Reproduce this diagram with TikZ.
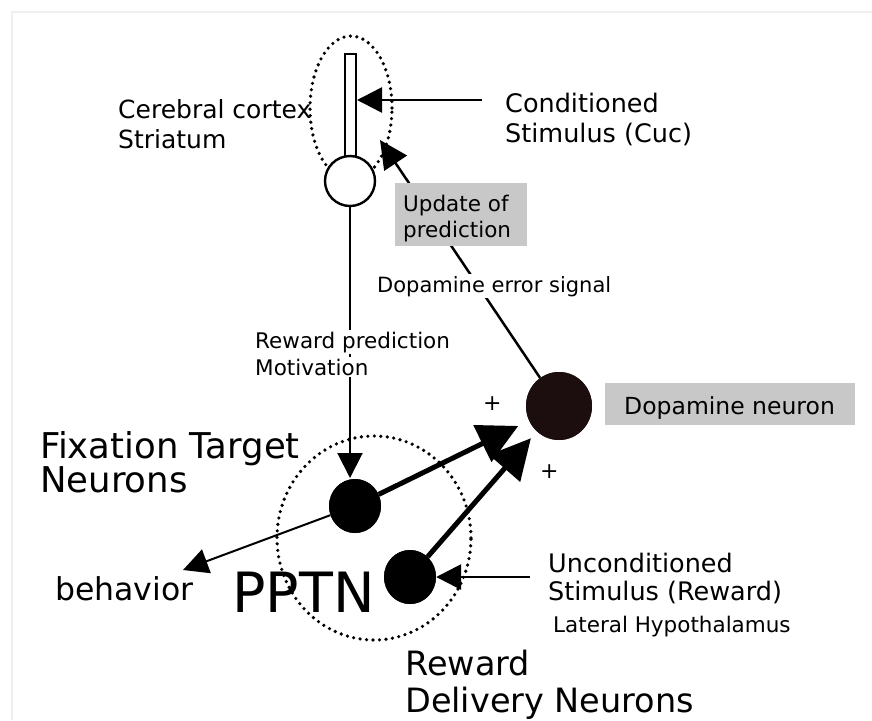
\documentclass[tikz,border=0pt]{standalone}
\usepackage{fontspec}
\setmainfont{DejaVu Sans}
\usetikzlibrary{shapes.geometric,arrows.meta}
\definecolor{boxgray}{RGB}{200,200,200}
\definecolor{dadark}{RGB}{28,14,14}
\definecolor{framegray}{RGB}{240,240,240}
\begin{document}
\begin{tikzpicture}[x=1pt,y=-1pt,
  lbl/.style={anchor=base west,inner sep=0pt},
  neuron/.style={ellipse,fill=black,inner sep=0pt,minimum width=52pt,minimum height=54pt},
  dneuron/.style={ellipse,fill=dadark,inner sep=0pt,minimum width=66pt,minimum height=68pt},
  thinarrow/.style={line width=2pt,-{Triangle[length=25pt,width=25pt]}},
  thickarrow/.style={line width=5pt,-{Triangle[length=40pt,width=40pt]}},
  dotline/.style={line width=3.6pt,dash pattern=on 0pt off 6.5pt,line cap=round},
  graybox/.style={fill=boxgray,draw=none,inner sep=0pt,anchor=north west}]
\useasboundingbox (0,0) rectangle (872,720);
\fill[white] (0,0) rectangle (872,720);
% faint frame
\draw[framegray,line width=1.5pt] (12,720) -- (12,12) -- (872,12);

% top structure
\node[ellipse,dotline,draw,minimum width=82pt,minimum height=144pt,inner sep=0pt] (ctx) at (351,108) {};
\node[rectangle,draw,line width=2pt,minimum width=11pt,minimum height=104pt,inner sep=0pt] (bar) at (350.5,106) {};
\node[circle,draw,line width=2.4pt,fill=white,minimum size=50pt,inner sep=0pt] (str) at (350,181) {};

% PPTN dotted circle
\node[ellipse,dotline,draw,minimum width=194pt,minimum height=204pt,inner sep=0pt] (pptn) at (374,538) {};

% neurons
\node[dneuron] (da) at (559,406) {};
\node[neuron] (fix) at (355,506) {};
\node[neuron] (rew) at (410,577) {};

% gray boxes
\node[graybox,minimum width=132pt,minimum height=63pt] (updbox) at (395,183) {};
\node[graybox,minimum width=250pt,minimum height=42pt] (dabox) at (605,383) {};

% coordinates
\coordinate (cstail) at (482,100);
\coordinate (updtip) at (380,140);
\coordinate (behtip) at (183,570);
\coordinate (ustail) at (530,577);

% connectors
\draw[thinarrow,line width=2.5pt] (cstail) -- (bar.east |- cstail);
\draw[thinarrow,line width=2.5pt,-{Triangle[length=28pt,width=27pt]}] (da) -- (updtip);
\draw[thinarrow] (str.south) -- (350,478);
\draw[thinarrow] (fix) -- (behtip);
\draw[thinarrow,line width=2.8pt] (ustail) -- (rew.east);
\draw[thickarrow,shorten >=12pt] (fix) -- (da);
\draw[thickarrow,shorten >=9pt] (rew) -- (da);
\node[neuron] at (fix) {};
\node[neuron] at (rew) {};
\node[dneuron] at (da) {};

% gray box texts (over the arrow)
\fill[boxgray] (395,183) rectangle (527,246);
\node[lbl,font=\fontsize{21.5}{24}\selectfont] (upd1) at (403,211) {Update of};
\node[lbl,font=\fontsize{21.5}{24}\selectfont] (upd2) at (403,237) {prediction};
\node[lbl,font=\fontsize{23.5}{26}\selectfont] (datxt) at (624,414) {Dopamine neuron};

% labels
\node[lbl,font=\fontsize{25}{28}\selectfont] (cc1) at (118,118) {Cerebral cortex};
\node[lbl,font=\fontsize{25}{28}\selectfont] (cc2) at (118,148) {Striatum};
\node[lbl,font=\fontsize{25.5}{30}\selectfont] (cs1) at (505,112) {Conditioned};
\node[lbl,font=\fontsize{25.5}{30}\selectfont] (cs2) at (505,142) {Stimulus (Cuc)};
\node[lbl,font=\fontsize{21}{24}\selectfont,fill=white,inner sep=2pt] (err) at (375,292) {Dopamine error signal};
\node[lbl,font=\fontsize{21.5}{24}\selectfont,fill=white,inner sep=2pt] (rp1) at (253,348) {Reward prediction};
\node[lbl,font=\fontsize{21.5}{24}\selectfont,fill=white,inner sep=2pt] (rp2) at (253,375) {Motivation};
\node[lbl,font=\fontsize{22}{26}\selectfont] (plus1) at (483,410) {+};
\node[lbl,font=\fontsize{22}{26}\selectfont] (plus2) at (540,478) {+};
\node[lbl,font=\fontsize{35.5}{40}\selectfont] (ft1) at (40,458) {Fixation Target};
\node[lbl,font=\fontsize{35.5}{40}\selectfont] (ft2) at (40,492) {Neurons};
\node[lbl,font=\fontsize{31.5}{36}\selectfont] (beh) at (55,600) {behavior};
\node[lbl,font=\fontsize{55.5}{60}\selectfont] (pptnlbl) at (232,612) {PPTN};
\node[lbl,font=\fontsize{25.5}{28}\selectfont] (us1) at (548,572) {Unconditioned};
\node[lbl,font=\fontsize{25.5}{28}\selectfont] (us2) at (548,600) {Stimulus (Reward)};
\node[lbl,font=\fontsize{21.5}{24}\selectfont] (lh) at (553,632) {Lateral Hypothalamus};
\node[lbl,font=\fontsize{33.5}{36}\selectfont] (rd1) at (405,675) {Reward};
\node[lbl,font=\fontsize{33.5}{36}\selectfont] (rd2) at (405,712) {Delivery Neurons};
\end{tikzpicture}
\end{document}
